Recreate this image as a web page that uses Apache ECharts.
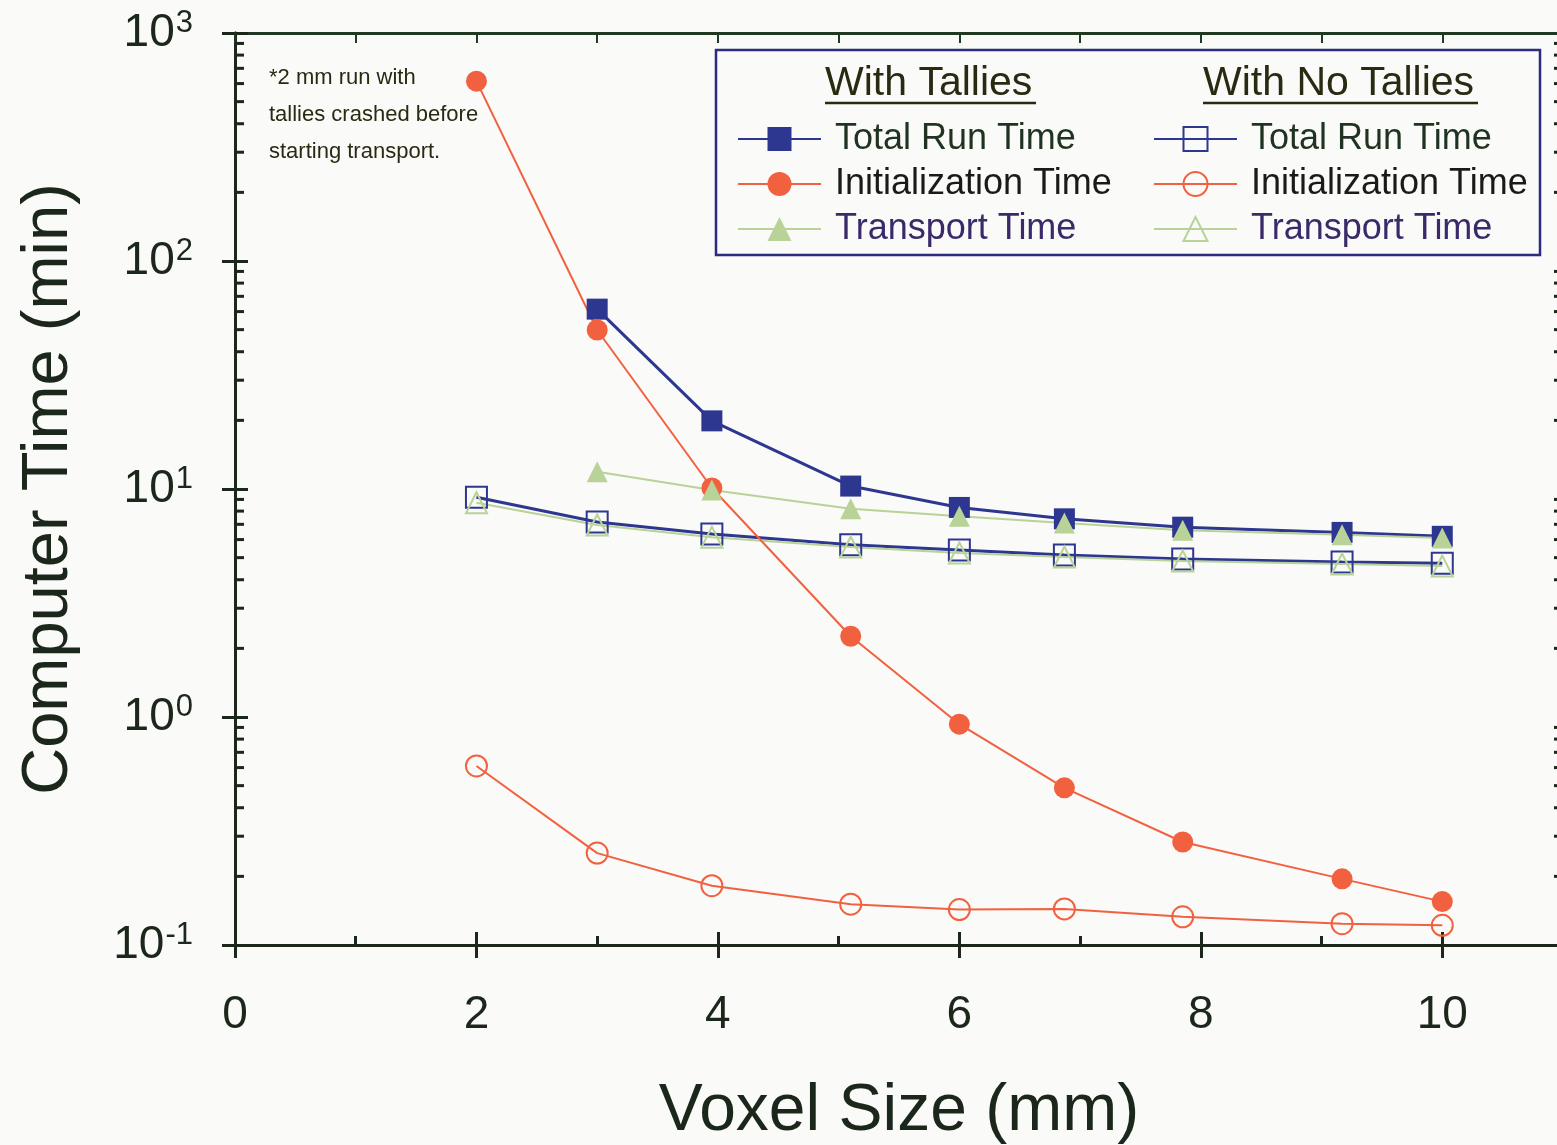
<!DOCTYPE html>
<html>
<head>
<meta charset="utf-8">
<title>Computer Time vs Voxel Size</title>
<script src="https://cdn.jsdelivr.net/npm/echarts@6/dist/echarts.min.js"></script>
<style>
  html, body { margin: 0; padding: 0; background: #fafaf8; }
  #charts { width: 1557px; height: 1145px; }
</style>
</head>
<body>
<div id="charts"></div>
<script>
// voxel sizes (mm) shared by every series
var voxelSize = [2, 3, 3.95, 5.1, 6, 6.87, 7.85, 9.17, 10];

// with tallies (the 2 mm run crashed before transport)
var tallyTotal     = [null, 61.5, 19.9, 10.3, 8.3, 7.4, 6.8, 6.45, 6.2];
var tallyInit      = [615, 49.8, 10.1, 2.26, 0.93, 0.489, 0.283, 0.195, 0.155];
var tallyTransport = [null, 11.9, 9.9, 8.2, 7.6, 7.1, 6.6, 6.3, 6.1];

// with no tallies
var noTallyTotal     = [9.2, 7.17, 6.35, 5.7, 5.4, 5.14, 4.93, 4.79, 4.73];
var noTallyInit      = [0.61, 0.253, 0.182, 0.151, 0.143, 0.144, 0.133, 0.124, 0.122];
var noTallyTransport = [8.7, 6.95, 6.15, 5.57, 5.24, 5.03, 4.83, 4.69, 4.59];

// minor ticks of the log axis
var minorTickValues = [0.2, 0.3, 0.4, 0.5, 0.6, 0.7, 0.8, 0.9,
                       2, 3, 4, 5, 6, 7, 8, 9,
                       20, 30, 40, 50, 60, 70, 80, 90,
                       200, 300, 400, 500, 600, 700, 800, 900];

var FONT = '"Liberation Sans", Arial, sans-serif';
var INK = '#1b271b';
var NAVY = '#2e3790';
var ORANGE = '#f2613f';
var GREEN = '#b8d298';

function pairs(arr) {
    var out = [];
    voxelSize.forEach(function (x, i) {
        if (arr[i] != null) out.push([x, arr[i]]);
    });
    return out;
}

function lineSeries(name, arr, symbol, color, filled, width) {
    return {
        name: name,
        type: 'line',
        xAxisIndex: 0,
        yAxisIndex: 0,
        data: pairs(arr),
        symbol: symbol,
        symbolSize: 21,
        showAllSymbol: true,
        lineStyle: { color: color, width: width },
        itemStyle: filled
            ? { color: color, borderWidth: 0 }
            : { color: 'rgba(255,255,255,0)', borderColor: color, borderWidth: 2 },
        emphasis: { disabled: true },
        animation: false
    };
}

var myChart = echarts.init(document.getElementById('charts'));

var grid = { left: 235, top: 33, width: 1328, height: 912, outerBoundsMode: 'none', containLabel: false };

var legendBase = {
    top: 114, orient: 'vertical',
    itemWidth: 83, itemHeight: 30, itemGap: 5,
    selectedMode: false,
    formatter: function (n) { return n.split(': ')[1]; },
    textStyle: { fontSize: 36, lineHeight: 40, fontFamily: FONT, padding: [0, 0, 0, 9] }
};

var option = {
    backgroundColor: '#fafaf8',
    textStyle: { fontFamily: FONT },
    animation: false,
    grid: [grid, grid],
    xAxis: [
        {   // bottom axis: labels, inner ticks
            gridIndex: 0, type: 'value', position: 'bottom', min: 0, max: 11, interval: 2,
            name: 'Voxel Size (mm)', nameLocation: 'middle', nameGap: 134,
            nameTextStyle: { fontSize: 66, color: INK, fontFamily: FONT },
            axisLine: { lineStyle: { color: INK, width: 3 } },
            axisTick: { inside: true, length: 13, lineStyle: { color: INK, width: 3 } },
            minorTick: { show: true, splitNumber: 2, length: 9, lineStyle: { color: INK, width: 3 } },
            axisLabel: { fontSize: 46, color: INK, margin: 47, showMaxLabel: false, fontFamily: FONT },
            splitLine: { show: false }
        },
        {   // top frame
            gridIndex: 0, type: 'value', position: 'top', min: 0, max: 11, interval: 1,
            axisLine: { lineStyle: { color: '#1f3a22', width: 3 } },
            axisTick: { inside: true, length: 10, lineStyle: { color: '#1f3a22', width: 2 } },
            axisLabel: { show: false },
            splitLine: { show: false }
        },
        {   // outer half of the bottom major ticks
            gridIndex: 1, type: 'value', position: 'bottom', min: 0, max: 11, interval: 2,
            axisLine: { show: false },
            axisTick: { inside: false, length: 13, lineStyle: { color: INK, width: 3 } },
            axisLabel: { show: false },
            splitLine: { show: false }
        }
    ],
    yAxis: [
        {
            gridIndex: 0, type: 'log', logBase: 10, min: 0.1, max: 1000, position: 'left',
            name: 'Computer Time (min)', nameLocation: 'middle', nameGap: 153,
            nameTextStyle: { fontSize: 65, color: INK, fontFamily: FONT },
            axisLine: { lineStyle: { color: INK, width: 3 } },
            axisTick: { inside: true, length: 13, lineStyle: { color: INK, width: 3 } },
            axisLabel: {
                margin: 42,
                color: INK,
                formatter: function (v) {
                    var e = Math.round(Math.log(v) / Math.LN10);
                    return '{b|10}{s|' + e + '}';
                },
                rich: {
                    b: { fontSize: 46, color: INK, fontFamily: FONT, lineHeight: 50 },
                    s: { fontSize: 31, color: INK, fontFamily: FONT, verticalAlign: 'top', lineHeight: 50, padding: [0, 0, 18, 1] }
                }
            },
            splitLine: { show: false }
        },
        {
            gridIndex: 0, type: 'log', logBase: 10, min: 0.1, max: 1000, position: 'right',
            axisLine: { lineStyle: { color: INK, width: 3 } },
            axisTick: { inside: true, length: 12, lineStyle: { color: INK, width: 3 } },
            axisLabel: { show: false },
            splitLine: { show: false }
        },
        {
            gridIndex: 1, type: 'log', logBase: 10, min: 0.1, max: 1000, position: 'left',
            axisLine: { show: false },
            axisTick: { inside: false, length: 13, lineStyle: { color: INK, width: 3 } },
            axisLabel: { show: false },
            splitLine: { show: false }
        }
    ],
    legend: [
        echarts.util.merge({
            left: 732,
            data: [
                { name: 'With Tallies: Total Run Time', textStyle: { color: '#1f3320' } },
                { name: 'With Tallies: Initialization Time', textStyle: { color: '#1a1a1a' } },
                { name: 'With Tallies: Transport Time', textStyle: { color: '#3a2a6a' } }
            ]
        }, legendBase),
        echarts.util.merge({
            left: 1148,
            data: [
                { name: 'No Tallies: Total Run Time', textStyle: { color: '#1f3320' } },
                { name: 'No Tallies: Initialization Time', textStyle: { color: '#1a1a1a' } },
                { name: 'No Tallies: Transport Time', textStyle: { color: '#3a2a6a' } }
            ]
        }, legendBase)
    ],
    graphic: [
        {
            type: 'rect', z: 3,
            shape: { x: 716, y: 50, width: 824, height: 205 },
            style: { fill: '#fafaf8', stroke: '#2b2b80', lineWidth: 2.5 }
        },
        {
            type: 'text', z: 5, left: 825, top: 63,
            style: { text: 'With Tallies', fontSize: 41, fill: '#2a2a12', fontFamily: FONT }
        },
        {
            type: 'line', z: 5,
            shape: { x1: 825, y1: 103, x2: 1036, y2: 103 },
            style: { stroke: '#2a2a12', lineWidth: 2.5 }
        },
        {
            type: 'text', z: 5, left: 1203, top: 63,
            style: { text: 'With No Tallies', fontSize: 41, fill: '#2a2a12', fontFamily: FONT }
        },
        {
            type: 'line', z: 5,
            shape: { x1: 1203, y1: 103, x2: 1478, y2: 103 },
            style: { stroke: '#2a2a12', lineWidth: 2.5 }
        },
        {
            type: 'text', z: 5, left: 269, top: 59,
            style: {
                text: '*2 mm run with\ntallies crashed before\nstarting transport.',
                fontSize: 22, lineHeight: 37, fill: '#2a2a12', fontFamily: FONT
            }
        }
    ],
    series: [
        lineSeries('No Tallies: Total Run Time', noTallyTotal, 'rect', NAVY, false, 3),
        lineSeries('No Tallies: Initialization Time', noTallyInit, 'circle', ORANGE, false, 2),
        lineSeries('No Tallies: Transport Time', noTallyTransport, 'triangle', GREEN, false, 2),
        lineSeries('With Tallies: Total Run Time', tallyTotal, 'rect', NAVY, true, 3),
        lineSeries('With Tallies: Initialization Time', tallyInit, 'circle', ORANGE, true, 2),
        lineSeries('With Tallies: Transport Time', tallyTransport, 'triangle', GREEN, true, 2),
        {
            // log-spaced minor ticks on the left and right frame
            type: 'custom',
            xAxisIndex: 0,
            yAxisIndex: 0,
            silent: true,
            clip: false,
            z: 4,
            data: minorTickValues.map(function (v) { return [0, v]; }),
            renderItem: function (params, api) {
                var v = api.value(1);
                var p = api.coord([0, v]);
                var q = api.coord([11, v]);
                var st = { stroke: INK, lineWidth: 3 };
                return {
                    type: 'group',
                    children: [
                        { type: 'line', shape: { x1: p[0], y1: p[1], x2: p[0] + 9, y2: p[1] }, style: st },
                        { type: 'line', shape: { x1: q[0] - 9, y1: q[1], x2: q[0], y2: q[1] }, style: st }
                    ]
                };
            }
        }
    ]
};

myChart.setOption(option);
</script>
</body>
</html>
